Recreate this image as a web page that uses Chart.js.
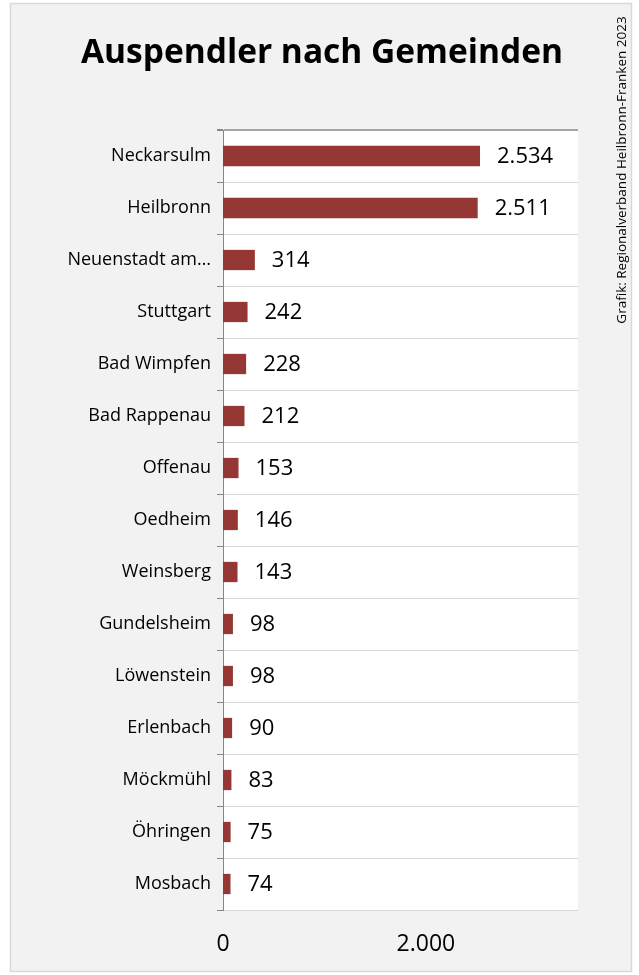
<!DOCTYPE html>
<html><head><meta charset="utf-8">
<script src="https://cdn.jsdelivr.net/npm/chart.js@4/dist/chart.umd.min.js"></script>
<style>html,body{margin:0;padding:0;background:#fff}#wrap{width:639px;height:975px}</style>
</head><body><div id="wrap"><canvas id="c" width="639" height="975"></canvas></div>
<script>
const categories = ["Neckarsulm","Heilbronn","Neuenstadt am…","Stuttgart","Bad Wimpfen","Bad Rappenau","Offenau","Oedheim","Weinsberg","Gundelsheim","Löwenstein","Erlenbach","Möckmühl","Öhringen","Mosbach"];
const auspendler = [2534,2511,314,242,228,212,153,146,143,98,98,90,83,75,74];
const xTickValues = [0,2000];
const titleText = "Auspendler nach Gemeinden";
const sourceText = "Grafik: Regionalverband Heilbronn-Franken 2023";

function fmt(v){ return String(v).replace(/\B(?=(\d{3})+(?!\d))/g, "."); }

const FONT = "'Open Sans', 'Noto Sans', sans-serif";

const framePlugin = {
  id: 'frame',
  beforeDraw(chart){
    const ctx = chart.ctx, a = chart.chartArea;
    ctx.save();
    ctx.fillStyle = '#ffffff';
    ctx.fillRect(0,0,chart.width,chart.height);
    ctx.fillStyle = '#f2f2f2';
    ctx.fillRect(10.5,3.5,621,968);
    ctx.strokeStyle = '#d9d9d9';
    ctx.lineWidth = 1.5;
    ctx.strokeRect(10.5,3.5,621,968);
    ctx.fillStyle = '#ffffff';
    ctx.fillRect(a.left, a.top, a.right - a.left, a.bottom - a.top);
    ctx.restore();
  },
  afterDraw(chart){
    const ctx = chart.ctx;
    ctx.save();
    ctx.fillStyle = '#000';
    ctx.font = "bold 33.5px " + FONT;
    ctx.textAlign = 'center';
    ctx.textBaseline = 'alphabetic';
    ctx.fillText(titleText, 322, 63);
    ctx.translate(622, 170);
    ctx.rotate(-Math.PI/2);
    ctx.font = "13.5px " + FONT;
    ctx.fillStyle = '#000';
    ctx.textBaseline = 'middle';
    ctx.fillText(sourceText, 0, 0);
    ctx.restore();
  },
  afterDatasetsDraw(chart){
    const ctx = chart.ctx;
    const meta = chart.getDatasetMeta(0);
    ctx.save();
    ctx.font = "22px " + FONT;
    ctx.fillStyle = '#000';
    ctx.textAlign = 'left';
    ctx.textBaseline = 'middle';
    meta.data.forEach((bar, i) => {
      ctx.fillText(fmt(chart.data.datasets[0].data[i]), bar.x + 17, bar.y + 1);
    });
    ctx.restore();
  }
};

new Chart(document.getElementById('c'), {
  type: 'bar',
  data: {
    labels: categories,
    datasets: [{
      data: auspendler,
      backgroundColor: '#953735',
      borderWidth: 0,
      categoryPercentage: 1,
      barPercentage: 0.39
    }]
  },
  options: {
    indexAxis: 'y',
    responsive: false,
    animation: false,
    devicePixelRatio: 1,
    layout: { padding: { left: 0, top: 130, right: 61, bottom: 0 } },
    plugins: { legend: { display: false }, tooltip: { enabled: false } },
    scales: {
      x: {
        min: 0, max: 3500,
        afterFit(s){ s.height = 65; },
        afterBuildTicks(s){ s.ticks = xTickValues.map(v => ({ value: v })); },
        grid: { display: false, drawTicks: false },
        border: { display: false },
        ticks: {
          padding: 21,
          font: { family: FONT, size: 23 },
          color: '#000',
          maxRotation: 0,
          callback: v => fmt(v)
        }
      },
      y: {
        afterFit(s){ s.width = 223; },
        grid: {
          offset: true,
          drawTicks: true,
          tickLength: 6,
          tickColor: '#868686',
          color: ctx => ctx.index === 0 ? '#a6a6a6' : '#d9d9d9',
          lineWidth: ctx => ctx.index === 0 ? 2 : 1
        },
        border: { display: true, color: '#868686', width: 1 },
        ticks: {
          padding: 6,
          font: { family: FONT, size: 18 },
          color: '#000',
          autoSkip: false
        }
      }
    }
  },
  plugins: [framePlugin]
});
</script></body></html>
